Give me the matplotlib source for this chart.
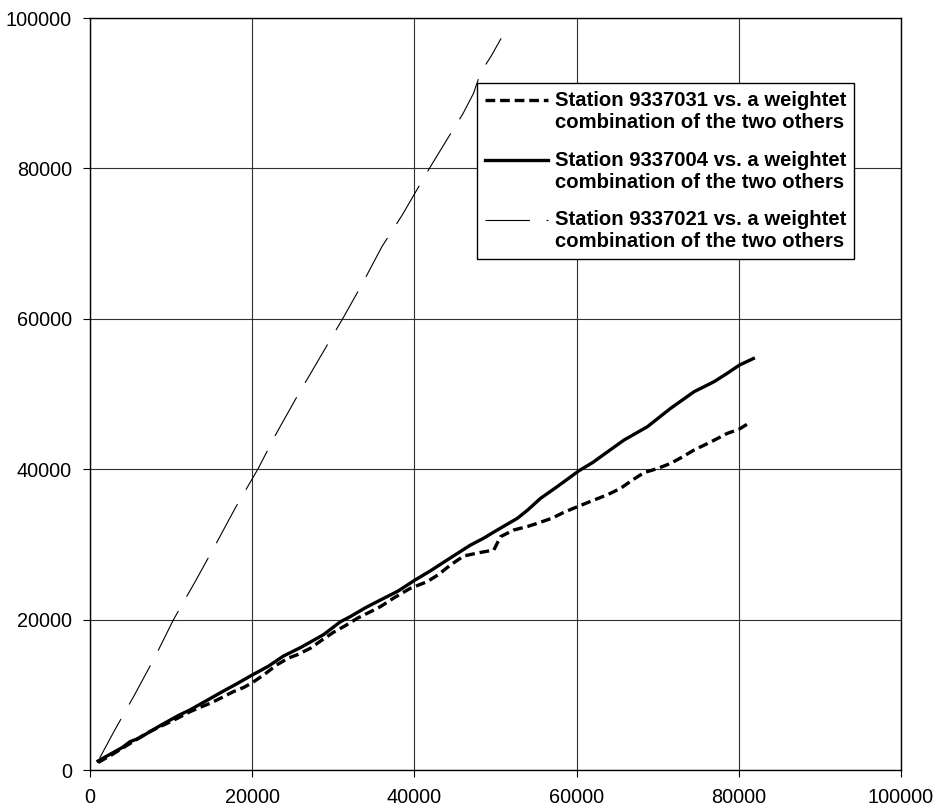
import numpy as np
import matplotlib
matplotlib.use("Agg")
import matplotlib.pyplot as plt
from matplotlib.legend_handler import HandlerLine2D

plt.rcParams['font.family'] = ['Liberation Sans', 'DejaVu Sans']
plt.rcParams['lines.scale_dashes'] = False

# Station 9337031 vs. weighted combination (thick dashed)
x_031 = [1000, 2500, 4000, 5500, 7000, 8500, 9900, 11000, 12350, 13500, 14800, 16200,
         17650, 19000, 20000, 21500, 23000, 24500, 25500, 27160, 28500, 30000, 31500,
         33000, 34500, 35800, 37500, 39500, 41570, 43000, 44440, 46090, 48000, 49800,
         50620, 52260, 54000, 55150, 57000, 58500, 60300, 62140, 63800, 65430, 66800,
         68300, 70000, 71600, 73000, 74480, 76500, 78600, 80000, 81070]
y_031 = [1000, 1900, 2900, 3900, 4900, 5700, 6400, 7000, 7760, 8300, 8860, 9600,
         10400, 11000, 11600, 12700, 13960, 14900, 15300, 16180, 17200, 18300, 19200,
         20200, 21000, 21720, 22900, 24160, 25040, 26000, 27260, 28460, 28900, 29260,
         31030, 31920, 32400, 32800, 33500, 34300, 35100, 35900, 36600, 37460, 38500,
         39540, 40100, 40780, 41600, 42550, 43600, 44770, 45300, 46010]

# Station 9337004 vs. weighted combination (thick solid)
x_004 = [1000, 2500, 4000, 4940, 6000, 7400, 8500, 9900, 11000, 12350, 14000, 16460,
         18000, 20000, 22000, 23850, 26000, 28800, 30860, 32100, 34000, 35800, 38000,
         40090, 42000, 44000, 46900, 48500, 50200, 52700, 54000, 55560, 57600, 60300,
         62000, 63800, 65850, 68730, 71600, 74480, 76950, 78500, 80100, 81800]
y_004 = [1200, 2100, 3000, 3770, 4200, 5100, 5800, 6650, 7300, 8000, 9000, 10500,
         11400, 12630, 13800, 15150, 16300, 18000, 19700, 20400, 21600, 22600, 23800,
         25270, 26500, 27900, 29900, 30800, 31900, 33470, 34600, 36130, 37670, 39800,
         40900, 42300, 43880, 45650, 48100, 50300, 51640, 52700, 53860, 54720]

# Station 9337021 vs. weighted combination (thin long dash)
x_021 = [1200, 3000, 5500, 8000, 10300, 13000, 15500, 18000, 20700, 23000, 25500,
         28000, 31150, 33500, 36000, 38500, 41850, 44000, 46000, 47300, 48150, 49500, 50700]
y_021 = [1600, 5200, 10000, 15000, 20000, 25100, 30000, 35000, 40000, 44800, 49600,
         54200, 60000, 64500, 69600, 73800, 80000, 83800, 87300, 90000, 92700, 95000, 97300]

labels = ["Station 9337031 vs. a weightet\ncombination of the two others",
          "Station 9337004 vs. a weightet\ncombination of the two others",
          "Station 9337021 vs. a weightet\ncombination of the two others"]


class TopLine(HandlerLine2D):
    # put the legend sample level with the first text line
    def create_artists(self, legend, orig_handle, xdescent, ydescent, width, height, fontsize, trans):
        arts = super().create_artists(legend, orig_handle, xdescent, ydescent, width, height, fontsize, trans)
        for a in arts:
            a.set_ydata(np.asarray(a.get_ydata()) + 0.58 * fontsize)
        return arts


fig = plt.figure(figsize=(9.39, 8.09), dpi=100)
ax = fig.add_axes([0.0958, 0.0482, 0.8637, 0.9295])

l1, = ax.plot(x_031, y_031, color='black', lw=2.4, dashes=(7, 3.5))
l2, = ax.plot(x_004, y_004, color='black', lw=2.4)
l3, = ax.plot(x_021, y_021, color='black', lw=0.8, dashes=(32, 12))

ax.set_xlim(0, 100000)
ax.set_ylim(0, 100000)
ax.set_xticks(np.arange(0, 100001, 20000))
ax.set_yticks(np.arange(0, 100001, 20000))
ax.grid(True, color='#303030', lw=0.8)
ax.set_axisbelow(True)
for s in ax.spines.values():
    s.set_color('black')
    s.set_linewidth(1.0)
ax.tick_params(direction='out', length=5, width=0.8, labelsize=14.3, pad=8)

leg = ax.legend([l1, l2, l3], labels, loc='upper right', bbox_to_anchor=(0.942, 0.9136),
                borderaxespad=0, fancybox=False, edgecolor='black', framealpha=1,
                prop={'weight': 'bold', 'size': 14.6}, handlelength=3.1, handletextpad=0.35,
                labelspacing=0.93, borderpad=0.38,
                handler_map={l1: TopLine(), l2: TopLine(), l3: TopLine()})
for t in leg.get_texts():
    t.set_linespacing(1.2)
leg.get_frame().set_linewidth(1.0)

fig.savefig('out.png', dpi=100)
